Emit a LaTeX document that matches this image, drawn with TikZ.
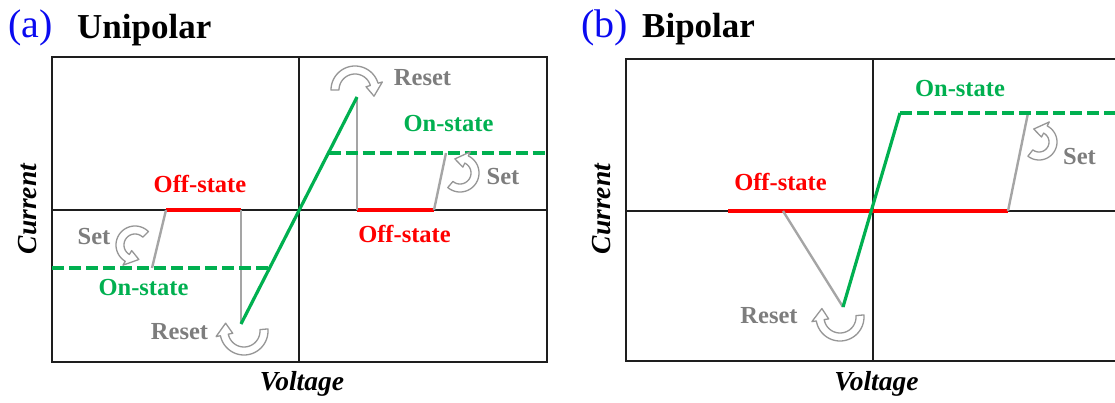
\documentclass[tikz,border=0pt]{standalone}
\usepackage{fontspec}
\setmainfont{Liberation Serif}

\definecolor{ongreen}{RGB}{0,176,80}
\definecolor{offred}{RGB}{255,0,0}
\definecolor{txtgray}{RGB}{125,125,125}
\definecolor{linegray}{RGB}{165,165,165}
\definecolor{arrgray}{RGB}{150,150,150}
\definecolor{tagblue}{RGB}{10,10,240}
\definecolor{framecol}{RGB}{30,30,30}

\tikzset{
  frame/.style={draw=framecol, line width=2.2pt},
  axisline/.style={draw=framecol, line width=1.8pt},
  onpath/.style={draw=ongreen, line width=3.2pt},
  ondash/.style={draw=ongreen, line width=3.2pt, dash pattern=on 12pt off 5pt},
  offpath/.style={draw=offred, line width=3.4pt},
  switchpath/.style={draw=linegray, line width=2.4pt},
  lbl/.style={font=\fontsize{24.5}{24.5}\selectfont\bfseries, anchor=base, inner sep=0pt},
  onlbl/.style={lbl, text=ongreen},
  offlbl/.style={lbl, text=offred},
  swlbl/.style={lbl, text=txtgray},
  axlbl/.style={font=\fontsize{27.5}{27.5}\selectfont\bfseries\itshape, anchor=base, inner sep=0pt},
  paneltitle/.style={font=\fontsize{35}{35}\selectfont\bfseries, anchor=base west, inner sep=0pt},
  paneltag/.style={font=\fontsize{40}{40}\selectfont, text=tagblue, anchor=base west, inner sep=0pt},
  hollow/.style={draw=arrgray, fill=white, line width=1.3pt, line join=round}
}

% curved hollow arrow: centre x, centre y, radius, start angle, end angle,
% half width of the band, half width of the head
\newcommand{\hollowarc}[7]{%
  \pgfmathsetmacro{\hsgn}{(#5>#4)*2-1}%
  \pgfmathsetmacro{\hbase}{#5-(\hsgn)*(12/#3*57.3)}%
  \draw[hollow] plot[domain=#4:\hbase, samples=40]
        ({#1+(#3+#6)*cos(\x)},{#2+(#3+#6)*sin(\x)})
    -- ({#1+(#3+#7)*cos(\hbase)},{#2+(#3+#7)*sin(\hbase)})
    -- ({#1+#3*cos(#5)},{#2+#3*sin(#5)})
    -- ({#1+(#3-#7)*cos(\hbase)},{#2+(#3-#7)*sin(\hbase)})
    -- plot[domain=\hbase:#4, samples=40]
        ({#1+(#3-#6)*cos(\x)},{#2+(#3-#6)*sin(\x)})
    -- cycle;}

\begin{document}
\begin{tikzpicture}[x=1pt,y=-1pt]
\useasboundingbox (0,0) rectangle (1115,403);
\clip (0,0) rectangle (1115,403);

% ---------------- (a) unipolar ----------------
\node[paneltag] (tagA) at (8,38) {(a)};
\node[paneltitle] (titleA) at (77,39) {Unipolar};

\draw[frame] (52,57) rectangle (547,362);
\coordinate (aL) at (52,210);  \coordinate (aR) at (547,210);
\coordinate (aT) at (299,57);  \coordinate (aB) at (299,362);
\draw[axisline] (aL) -- (aR);
\draw[axisline] (aT) -- (aB);

\coordinate (aPeak) at (357,97);
\coordinate (aLow)  at (241,324);
\coordinate (aOffR1) at (357,210); \coordinate (aOffR2) at (434,210);
\coordinate (aOnR1) at (328.5,153); \coordinate (aOnR2) at (547,153);
\coordinate (aSetR) at (446,153);
\coordinate (aOffL1) at (166,210); \coordinate (aOffL2) at (241,210);
\coordinate (aOnL1) at (52,268);   \coordinate (aOnL2) at (269.5,268);
\coordinate (aSetL) at (152,268);

\draw[offpath] (aOffR1) -- (aOffR2);
\draw[offpath] (aOffL1) -- (aOffL2);
\draw[switchpath] (aPeak) -- (aOffR1);
\draw[switchpath] (aOffR2) -- (aSetR);
\draw[switchpath] (aOffL2) -- (aLow);
\draw[switchpath] (aOffL1) -- (aSetL);
\draw[ondash] (aOnR1) -- (aOnR2);
\draw[ondash] (aOnL1) -- (aOnL2);
\draw[onpath] (aLow) -- (aPeak);

\hollowarc{355}{90}{20}{180}{378}{4}{8.5}
\hollowarc{460}{173}{15}{130}{-110}{4}{8.5}
\hollowarc{135}{245}{15}{-45}{-285}{4}{8.5}
\hollowarc{244}{331}{20}{-5}{203}{4}{8.5}

\node[offlbl] (aOffUp) at (200,193) {Off-state};
\node[offlbl] (aOffDn) at (404.5,243) {Off-state};
\node[onlbl] (aOnUp) at (448.5,132) {On-state};
\node[onlbl] (aOnDn) at (143.5,295) {On-state};
\node[swlbl] (aResetUp) at (422.5,86) {Reset};
\node[swlbl] (aResetDn) at (179.5,339) {Reset};
\node[swlbl] (aSetUp) at (503,185) {Set};
\node[swlbl] (aSetDn) at (94,244) {Set};

\node[axlbl, rotate=90] (curA) at (36,209) {Current};
\node[axlbl] (voltA) at (302,390) {Voltage};

% ---------------- (b) bipolar ----------------
\node[paneltag] (tagB) at (581,38) {(b)};
\node[paneltitle] (titleB) at (642,38) {Bipolar};

\draw[frame] (626,59) rectangle (1130,361);
\coordinate (bL) at (626,211); \coordinate (bR) at (1130,211);
\coordinate (bT) at (873,59);  \coordinate (bB) at (873,361);
\draw[axisline] (bL) -- (bR);
\draw[axisline] (bT) -- (bB);

\coordinate (bOff1) at (728,211); \coordinate (bOff2) at (1008,211);
\coordinate (bRst) at (783,211);
\coordinate (bLow) at (843,307);
\coordinate (bKnee) at (900,113);
\coordinate (bOnEnd) at (1130,113);
\coordinate (bSet) at (1028,113);

\draw[offpath] (bOff1) -- (bOff2);
\draw[switchpath] (bRst) -- (bLow);
\draw[switchpath] (bOff2) -- (bSet);
\draw[ondash] (bKnee) -- (bOnEnd);
\draw[onpath] (bLow) -- (bKnee);

\hollowarc{1039}{142}{14}{128}{-112}{4}{8.5}
\hollowarc{840}{317}{20}{-5}{205}{4}{8.5}

\node[offlbl] (bOffLbl) at (780.5,191) {Off-state};
\node[onlbl] (bOnLbl) at (960,97) {On-state};
\node[swlbl] (bResetLbl) at (769,323) {Reset};
\node[swlbl] (bSetLbl) at (1079.5,165) {Set};

\node[axlbl, rotate=90] (curB) at (610,209) {Current};
\node[axlbl] (voltB) at (876.5,390) {Voltage};
\end{tikzpicture}
\end{document}
